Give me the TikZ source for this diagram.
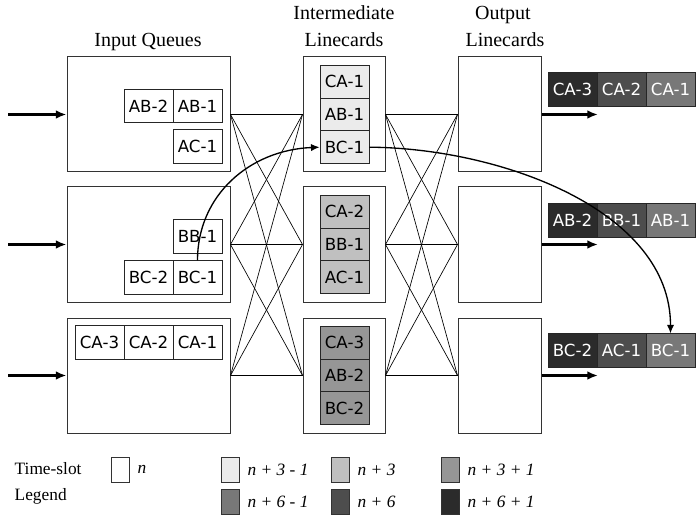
\documentclass[tikz,border=0pt]{standalone}
\usepackage{fontspec}
\setmainfont{Liberation Serif}
\newfontfamily\cellfont{DejaVu Sans}
\usetikzlibrary{arrows.meta}
\definecolor{cA}{HTML}{EBEBEB}
\definecolor{cB}{HTML}{C0C0C0}
\definecolor{cC}{HTML}{969696}
\definecolor{cD}{HTML}{787878}
\definecolor{cE}{HTML}{4D4D4D}
\definecolor{cF}{HTML}{2B2B2B}
\begin{document}
\begin{tikzpicture}[x=0.75pt,y=-0.75pt,
  inbox/.style={draw=black!80,line width=0.75pt,minimum width=122.25pt,minimum height=86.25pt,inner sep=0},
  midbox/.style={draw=black!80,line width=0.75pt,minimum width=61.5pt,minimum height=86.25pt,inner sep=0},
  outbox/.style={draw=black!80,line width=0.75pt,minimum width=62.25pt,minimum height=86.25pt,inner sep=0},
  cell/.style={draw=black!85,line width=0.6pt,minimum width=36.75pt,minimum height=25pt,inner sep=0,
    font=\cellfont\fontsize{12.5}{14}\selectfont},
  midcell/.style={cell,minimum height=24.5pt},
  ocell/.style={cell,text=white},
  title/.style={font=\fontsize{15}{17}\selectfont,anchor=base},
  legtext/.style={font=\fontsize{13}{15}\selectfont,anchor=west},
  legbox/.style={draw=black!80,line width=0.6pt,minimum width=13.5pt,minimum height=18.75pt,inner sep=0},
  cross/.style={line width=0.5pt},
  flow/.style={line width=1.8pt,-{Latex[length=8pt,width=6.5pt]}},
  hop/.style={line width=1pt,-{Latex[length=6.5pt,width=5.5pt]}}
]
\useasboundingbox (0,0) rectangle (698,516);

% titles
\node[title] (tin) at (148,47) {Input Queues};
\node[title] (tmid1) at (344,20) {Intermediate};
\node[title] (tmid2) at (344,47) {Linecards};
\node[title] (tout1) at (503,20) {Output};
\node[title] (tout2) at (505,47) {Linecards};

% boxes
\foreach \i/\y in {1/114.5,2/244.5,3/375.5}{
  \node[inbox] (in\i) at (148.5,\y) {};
  \node[midbox] (mid\i) at (344,\y) {};
  \node[outbox] (out\i) at (499.5,\y) {};
}

% crossbar connections
\foreach \i in {1,2,3}{
  \foreach \j in {1,2,3}{
    \draw[cross] (in\i.east) -- (mid\j.west);
    \draw[cross] (mid\i.east) -- (out\j.west);
  }
}

% input and output arrows
\coordinate (src1) at (8,114.5);
\coordinate (src2) at (8,244.5);
\coordinate (src3) at (8,375.5);
\coordinate (dst1) at (598,114.5);
\coordinate (dst2) at (598,244.5);
\coordinate (dst3) at (598,375.5);
\draw[flow] (src1) -- (in1.west);
\draw[flow] (src2) -- (in2.west);
\draw[flow] (src3) -- (in3.west);
\draw[flow] (out1.east) -- (dst1);
\draw[flow] (out2.east) -- (dst2);
\draw[flow] (out3.east) -- (dst3);

% input queue cells
\node[cell] (iab2) at (148.5,106) {AB-2};
\node[cell] (iab1) at (197.5,106) {AB-1};
\node[cell] (iac1) at (197.5,146.5) {AC-1};
\node[cell] (ibb1) at (197.5,236.5) {BB-1};
\node[cell] (ibc2) at (148.5,277.5) {BC-2};
\node[cell] (ibc1) at (197.5,277.5) {BC-1};
\node[cell] (ica3) at (99.5,342.5) {CA-3};
\node[cell] (ica2) at (148.5,342.5) {CA-2};
\node[cell] (ica1) at (197.5,342.5) {CA-1};

% intermediate cells
\node[midcell,fill=cA] (mca1) at (344.5,81.8) {CA-1};
\node[midcell,fill=cA] (mab1) at (344.5,114.5) {AB-1};
\node[midcell,fill=cA] (mbc1) at (344.5,147.2) {BC-1};
\node[midcell,fill=cB] (mca2) at (344.5,211.8) {CA-2};
\node[midcell,fill=cB] (mbb1) at (344.5,244.5) {BB-1};
\node[midcell,fill=cB] (mac1) at (344.5,277.2) {AC-1};
\node[midcell,fill=cC] (mca3) at (344.5,342.8) {CA-3};
\node[midcell,fill=cC] (mab2) at (344.5,375.5) {AB-2};
\node[midcell,fill=cC] (mbc2) at (344.5,408.2) {BC-2};

% output cells
\node[ocell,fill=cF] (oca3) at (572.5,89.5) {CA-3};
\node[ocell,fill=cE] (oca2) at (621.5,89.5) {CA-2};
\node[ocell,fill=cD] (oca1) at (670.5,89.5) {CA-1};
\node[ocell,fill=cF] (oab2) at (572.5,220.5) {AB-2};
\node[ocell,fill=cE] (obb1) at (621.5,220.5) {BB-1};
\node[ocell,fill=cD] (oab1) at (670.5,220.5) {AB-1};
\node[ocell,fill=cF] (obc2) at (572.5,350.5) {BC-2};
\node[ocell,fill=cE] (oac1) at (621.5,350.5) {AC-1};
\node[ocell,fill=cD] (obc1) at (670.5,350.5) {BC-1};

% hops of BC-1
\draw[hop] (ibc1.north) .. controls (197.5,195) and (250,150) .. (mbc1.west);
\draw[hop] (mbc1.east) .. controls (500,148) and (670.5,210) .. (obc1.north);

% legend
\node[legtext] (ts) at (10,468.5) {Time-slot};
\node[legtext] (lg) at (10,496) {Legend};
\node[legbox] (l0) at (120,469.5) {};
\node[legtext] (l0t) at (133,469.5) {\textit{n}};
\node[legbox,fill=cA] (l1) at (230,469.5) {};
\node[legtext] (l1t) at (243,469.5) {\textit{n + 3 - 1}};
\node[legbox,fill=cB] (l2) at (340,469.5) {};
\node[legtext] (l2t) at (353,469.5) {\textit{n + 3}};
\node[legbox,fill=cC] (l3) at (450,469.5) {};
\node[legtext] (l3t) at (463,469.5) {\textit{n + 3 + 1}};
\node[legbox,fill=cD] (l4) at (230,501.5) {};
\node[legtext] (l4t) at (243,501.5) {\textit{n + 6 - 1}};
\node[legbox,fill=cE] (l5) at (340,501.5) {};
\node[legtext] (l5t) at (353,501.5) {\textit{n + 6}};
\node[legbox,fill=cF] (l6) at (450,501.5) {};
\node[legtext] (l6t) at (463,501.5) {\textit{n + 6 + 1}};
\end{tikzpicture}
\end{document}
